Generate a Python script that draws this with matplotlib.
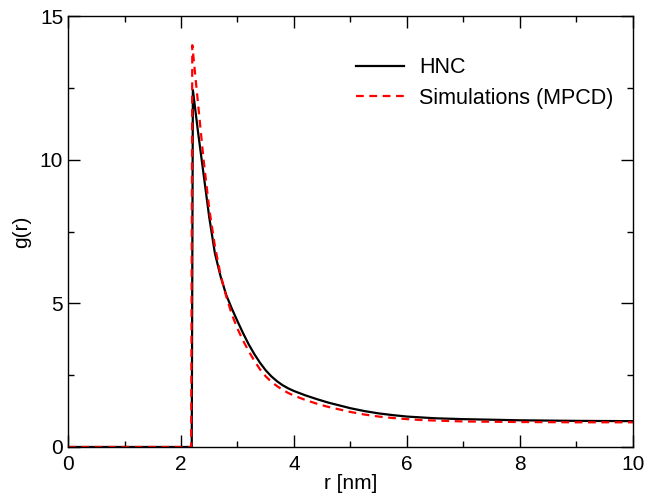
import matplotlib
matplotlib.use("Agg")
import matplotlib.pyplot as plt
from matplotlib.ticker import MultipleLocator

plt.rcParams['font.family'] = ['Liberation Sans', 'DejaVu Sans']

# HNC curve (r in nm, g(r))
r_hnc = [0.0, 2.19, 2.21, 2.3, 2.4, 2.5, 2.6, 2.7, 2.8, 2.9, 3.0, 3.1, 3.2,
         3.3, 3.4, 3.5, 3.6, 3.7, 3.8, 3.9, 4.0, 4.2, 4.4, 4.6, 4.8, 5.0,
         5.25, 5.5, 5.75, 6.0, 6.25, 6.5, 7.0, 7.5, 8.0, 9.0, 10.0]
g_hnc = [0.0, 0.0, 12.44, 11.0, 9.5, 8.0, 6.75, 5.95, 5.3, 4.82, 4.38, 3.96,
         3.57, 3.23, 2.93, 2.67, 2.46, 2.29, 2.15, 2.04, 1.95, 1.80, 1.67,
         1.55, 1.45, 1.35, 1.25, 1.17, 1.11, 1.06, 1.03, 1.00, 0.97, 0.95,
         0.93, 0.91, 0.90]

# Simulations (MPCD)
r_sim = [0.0, 2.18, 2.2, 2.25, 2.3, 2.4, 2.5, 2.6, 2.7, 2.8, 2.9, 3.0, 3.1,
         3.2, 3.3, 3.4, 3.5, 3.6, 3.7, 3.8, 3.9, 4.0, 4.2, 4.4, 4.6, 4.8,
         5.0, 5.25, 5.5, 5.75, 6.0, 6.25, 6.5, 7.0, 7.5, 8.0, 9.0, 10.0]
g_sim = [0.0, 0.0, 14.0, 13.0, 12.0, 10.0, 8.3, 7.0, 6.0, 5.25, 4.62, 4.12,
         3.7, 3.33, 3.0, 2.7, 2.46, 2.27, 2.12, 1.99, 1.88, 1.79, 1.64, 1.51,
         1.40, 1.31, 1.22, 1.13, 1.06, 1.01, 0.97, 0.94, 0.92, 0.89, 0.88,
         0.87, 0.86, 0.86]

fig = plt.figure(figsize=(6.59, 4.95), dpi=100)
ax = fig.add_axes([0.1032, 0.097, 0.8573, 0.8697])

ax.plot(r_hnc, g_hnc, color='black', lw=1.6, label='HNC')
ax.plot(r_sim, g_sim, color='#ff0000', lw=1.6, linestyle=(0, (3.5, 2.5)),
        label='Simulations (MPCD)')

ax.set_xlim(0, 10)
ax.set_ylim(0, 15)
ax.xaxis.set_major_locator(MultipleLocator(2))
ax.xaxis.set_minor_locator(MultipleLocator(1))
ax.yaxis.set_major_locator(MultipleLocator(5))
ax.yaxis.set_minor_locator(MultipleLocator(2.5))
ax.tick_params(which='both', direction='in', top=True, right=True, labelsize=15)
ax.tick_params(which='major', length=8.5, width=1)
ax.tick_params(which='minor', length=4.3, width=1)
ax.tick_params(axis='x', which='major', pad=6)
for s in ax.spines.values():
    s.set_linewidth(1.0)

ax.set_xlabel('r [nm]', fontsize=15, labelpad=0)
ax.set_ylabel('g(r)', fontsize=15, labelpad=6)

ax.legend(loc='upper left', bbox_to_anchor=(0.475, 0.95), frameon=False,
          fontsize=15.5, handlelength=2.23, handletextpad=0.7, labelspacing=0.44)

fig.savefig('out.png', dpi=100)
